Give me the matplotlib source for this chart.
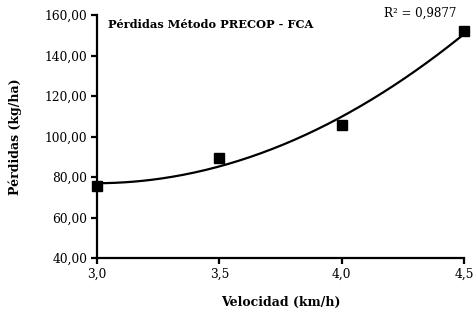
import numpy as np
import matplotlib
matplotlib.use("Agg")
import matplotlib.pyplot as plt
from matplotlib.ticker import FuncFormatter, MultipleLocator

velocidad = [3.0, 3.5, 4.0, 4.5]
perdidas = [75.5, 89.5, 105.5, 152.0]
title = "Pérdidas Método PRECOP - FCA"
xlabel = "Velocidad (km/h)"
ylabel = "Pérdidas (kg/ha)"
r2_label = "R² = 0,9877"

plt.rcParams['font.family'] = ['DejaVu Serif']

fig = plt.figure(figsize=(4.73, 3.13), dpi=100)
ax = fig.add_axes([97/473, 1-258/313, (464-97)/473, (258-15)/313])

coef = np.polyfit(velocidad, perdidas, 2)
xs = np.linspace(min(velocidad), max(velocidad), 200)
ax.plot(xs, np.polyval(coef, xs), color='black', lw=1.6, zorder=2)
ax.plot(velocidad, perdidas, 's', color='black', ms=6.5, zorder=3, clip_on=False)

ax.set_xlim(3.0, 4.5)
ax.set_ylim(40, 160)
ax.xaxis.set_major_locator(MultipleLocator(0.5))
ax.yaxis.set_major_locator(MultipleLocator(20))
ax.xaxis.set_major_formatter(FuncFormatter(lambda v, p: f"{v:.1f}".replace('.', ',')))
ax.yaxis.set_major_formatter(FuncFormatter(lambda v, p: f"{v:.2f}".replace('.', ',')))

for s in ['top', 'right']:
    ax.spines[s].set_visible(False)
for s in ['left', 'bottom']:
    ax.spines[s].set_linewidth(1.6)
ax.tick_params(direction='out', length=4, width=1.6, labelsize=8.8, pad=3)

ax.set_xlabel(xlabel, fontsize=9, fontweight='bold', labelpad=11)
ax.set_ylabel(ylabel, fontsize=9, fontweight='bold', labelpad=16)
ax.text(0.03, 0.985, title, transform=ax.transAxes, fontsize=8.2, fontweight='bold', va='top', ha='left')
ax.text(0.98, 1.008, r2_label, transform=ax.transAxes, fontsize=8.6, va='center', ha='right')

fig.savefig("out.png", dpi=100)
